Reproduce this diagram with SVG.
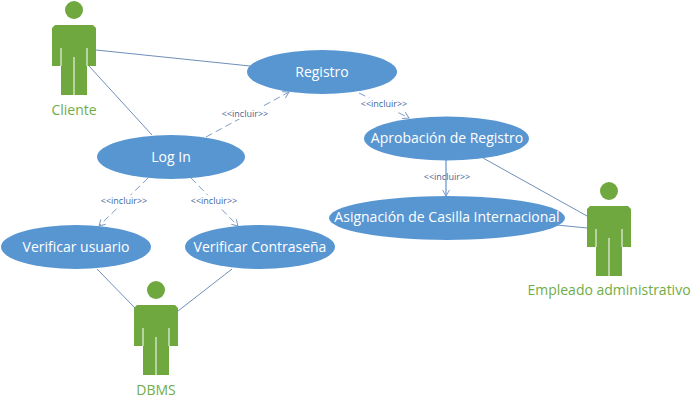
<svg xmlns="http://www.w3.org/2000/svg" width="699" height="408" viewBox="0 0 699 408">
<style>
.uc{fill:#5896d2}
.t{font-family:"Open Sans","Liberation Sans",sans-serif;font-size:14px;text-anchor:middle;fill:#fff}
.a{font-family:"Open Sans","Liberation Sans",sans-serif;font-size:14px;text-anchor:middle;fill:#70ad47}
.i{font-family:"Open Sans","Liberation Sans",sans-serif;font-size:9px;text-anchor:middle;fill:#44689a}
.l{stroke:#6f8fb8;stroke-width:1;fill:none}
.d{stroke:#7d9cc4;stroke-width:1;fill:none;stroke-dasharray:7 4;marker-end:url(#o)}
.v{stroke:#6f9ccf;stroke-width:1.300;fill:none;marker-end:url(#o)}
.s{stroke:#fff;stroke-width:1}
</style>
<defs>
<marker id="o" markerWidth="9" markerHeight="9" refX="7" refY="4" orient="auto" markerUnits="userSpaceOnUse"><path d="M1 0.5L7 4L1 7.500" fill="none" stroke="#7d9cc4" stroke-width="1"/></marker>
<g id="actor">
<circle cx="22" cy="-15" r="9" fill="#70a840"/>
<path d="M3 0H41L44 3V41H35V70H9V41H0V3Z" fill="#70a840"/>
<path class="s" d="M9 23V41M35 23V41M22 32V70"/>
</g>
</defs>
<g id="connectors">
<path class="l" d="M96 50L250 66"/>
<path class="l" d="M89 66L152 135"/>
<path class="d" d="M206 137L289 92"/>
<path class="d" d="M148 178L99 226"/>
<path class="d" d="M191 178L238 226"/>
<path class="d" d="M359 93L409 118"/>
<path class="v" d="M446 160V196"/>
<path class="l" d="M483 158L587 216"/>
<path class="l" d="M557 225L587 228"/>
<path class="l" d="M97 269L135 308"/>
<path class="l" d="M232 269L178 311"/>
</g>
<rect x="220" y="106" width="50" height="13" fill="#fff"/>
<text class="i" x="245" y="117">&lt;&lt;incluir&gt;&gt;</text>
<rect x="360" y="98" width="48" height="13" fill="#fff"/>
<text class="i" x="384" y="107">&lt;&lt;incluir&gt;&gt;</text>
<text class="i" x="447" y="180">&lt;&lt;incluir&gt;&gt;</text>
<rect x="98" y="195" width="52" height="13" fill="#fff"/>
<text class="i" x="124" y="204">&lt;&lt;incluir&gt;&gt;</text>
<rect x="188" y="195" width="52" height="13" fill="#fff"/>
<text class="i" x="214" y="204">&lt;&lt;incluir&gt;&gt;</text>
<g id="cliente"><use href="#actor" x="52" y="25"/><text class="a" x="74" y="115">Cliente</text></g>
<g id="empleado"><use href="#actor" x="587" y="206"/><text class="a" x="609" y="295">Empleado administrativo</text></g>
<g id="dbms"><use href="#actor" x="134" y="305"/><text class="a" x="156" y="395">DBMS</text></g>
<g id="registro"><ellipse class="uc" cx="322" cy="72" rx="75" ry="22"/><text class="t" x="322" y="77">Registro</text></g>
<g id="login"><ellipse class="uc" cx="171" cy="157" rx="74" ry="22"/><text class="t" x="171" y="162">Log In</text></g>
<g id="aprobacion"><ellipse class="uc" cx="446.500" cy="138.500" rx="82.500" ry="22"/><text class="t" x="447" y="143">Aprobación de Registro</text></g>
<g id="asignacion"><ellipse class="uc" cx="447" cy="218" rx="118" ry="22"/><text class="t" x="447" y="222">Asignación de Casilla Internacional</text></g>
<g id="verificar-usuario"><ellipse class="uc" cx="76" cy="247" rx="75" ry="22"/><text class="t" x="76" y="252">Verificar usuario</text></g>
<g id="verificar-contrasena"><ellipse class="uc" cx="260" cy="247" rx="75" ry="22"/><text class="t" x="260" y="252">Verificar Contraseña</text></g>
</svg>
